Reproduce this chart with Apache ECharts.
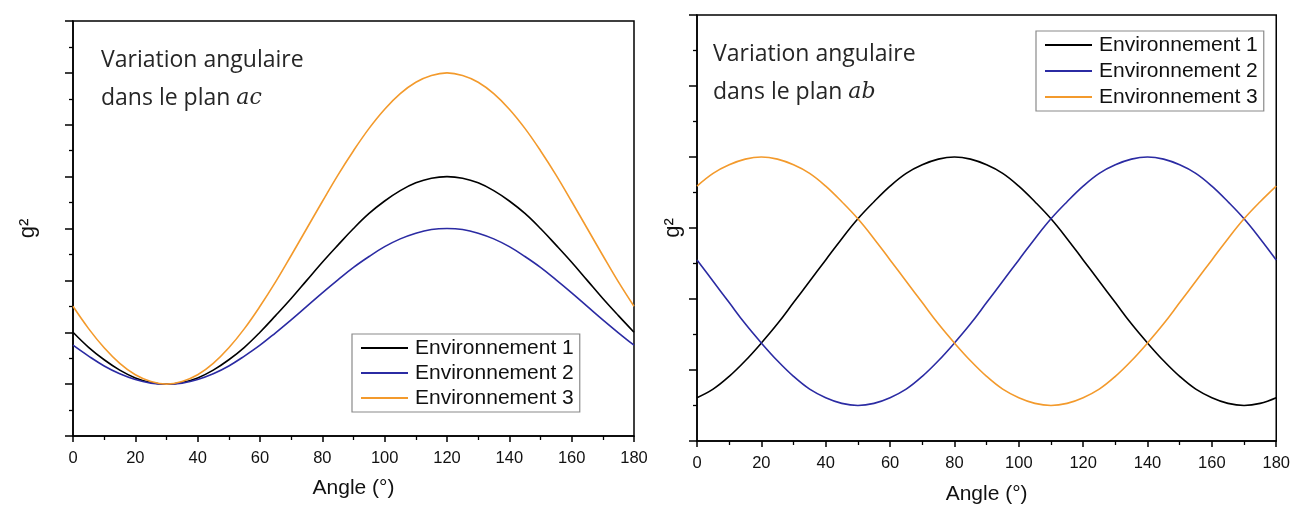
<!DOCTYPE html>
<html>
<head>
<meta charset="utf-8">
<script src="https://cdn.jsdelivr.net/npm/echarts@6/dist/echarts.min.js"></script>
<style>
html,body{margin:0;padding:0;background:#fff;}
#c{width:1293px;height:510px;}
</style>
</head>
<body>
<div id="c"></div>
<script>
// Angles (degrees)
const angles = [0,5,10,15,20,25,30,35,40,45,50,55,60,65,70,75,80,85,90,95,100,105,110,115,120,125,130,135,140,145,150,155,160,165,170,175,180];
const xTicks = [0,20,40,60,80,100,120,140,160,180];
const seriesNames = ['Environnement 1','Environnement 2','Environnement 3'];

// Left panel: plan ac (arbitrary g² units)
const acEnv1 = [2.00,1.71,1.47,1.27,1.12,1.03,1.00,1.03,1.12,1.27,1.47,1.71,2.00,2.32,2.65,3.00,3.35,3.68,4.00,4.29,4.53,4.73,4.88,4.97,5.00,4.97,4.88,4.73,4.53,4.29,4.00,3.68,3.35,3.00,2.65,2.32,2.00];
const acEnv2 = [1.75,1.54,1.35,1.20,1.09,1.02,1.00,1.02,1.09,1.20,1.35,1.54,1.75,1.99,2.24,2.50,2.76,3.01,3.25,3.46,3.65,3.80,3.91,3.98,4.00,3.98,3.91,3.80,3.65,3.46,3.25,3.01,2.76,2.50,2.24,1.99,1.75];
const acEnv3 = [2.50,2.07,1.70,1.40,1.18,1.05,1.00,1.05,1.18,1.40,1.70,2.07,2.50,2.97,3.48,4.00,4.52,5.03,5.50,5.93,6.30,6.60,6.82,6.95,7.00,6.95,6.82,6.60,6.30,5.93,5.50,5.03,4.52,4.00,3.48,2.97,2.50];

// Right panel: plan ab
const abEnv1 = [0.61,0.73,0.91,1.13,1.38,1.65,1.95,2.25,2.55,2.85,3.13,3.37,3.59,3.77,3.89,3.97,4.00,3.97,3.89,3.77,3.59,3.37,3.13,2.85,2.55,2.25,1.95,1.65,1.38,1.13,0.91,0.73,0.61,0.53,0.50,0.53,0.61];
const abEnv2 = [2.55,2.25,1.95,1.65,1.38,1.13,0.91,0.73,0.61,0.53,0.50,0.53,0.61,0.73,0.91,1.13,1.38,1.65,1.95,2.25,2.55,2.85,3.13,3.37,3.59,3.77,3.89,3.97,4.00,3.97,3.89,3.77,3.59,3.37,3.13,2.85,2.55];
const abEnv3 = [3.59,3.77,3.89,3.97,4.00,3.97,3.89,3.77,3.59,3.37,3.13,2.85,2.55,2.25,1.95,1.65,1.38,1.13,0.91,0.73,0.61,0.53,0.50,0.53,0.61,0.73,0.91,1.13,1.38,1.65,1.95,2.25,2.55,2.85,3.13,3.37,3.59];

const colors = ['#000000','#2b2ba3','#f39a2c'];
const FONT = '"Liberation Sans", Arial, sans-serif';

function xAxisFor(gridIndex, gap){
  return {
    type:'value', gridIndex, min:0, max:180, interval:20,
    name:'Angle (°)', nameLocation:'middle', nameGap:gap,
    nameTextStyle:{fontFamily:FONT,fontSize:21,color:'#111'},
    axisLine:{onZero:false,lineStyle:{color:'#000',width:1.5}},
    axisTick:{show:true,length:6,lineStyle:{color:'#000',width:1.5}},
    minorTick:{show:true,splitNumber:2,length:4,lineStyle:{color:'#000',width:1.3}},
    splitLine:{show:false},
    axisLabel:{margin:14,fontFamily:FONT,fontSize:16.5,color:'#111',
      formatter:(v)=> xTicks.includes(v) ? String(v) : ''}
  };
}
function yAxisFor(gridIndex, max, gap){
  return {
    type:'value', gridIndex, min:0, max:max, interval:1,
    name:'g²', nameLocation:'middle', nameGap:gap, nameRotate:90,
    nameTextStyle:{fontFamily:FONT,fontSize:22,color:'#111'},
    axisLine:{onZero:false,lineStyle:{color:'#000',width:1.5}},
    axisTick:{show:true,length:8,lineStyle:{color:'#000',width:1.5}},
    minorTick:{show:true,splitNumber:2,length:4,lineStyle:{color:'#000',width:1.3}},
    splitLine:{show:false},
    axisLabel:{show:false}
  };
}
function mkSeries(name, idx, vals, color){
  return {
    name, type:'line', xAxisIndex:idx, yAxisIndex:idx,
    data: angles.map((a,i)=>[a, vals[i]]),
    symbol:'none', smooth:0.4,
    lineStyle:{color, width:1.6}, itemStyle:{color}
  };
}
function legendFor(left, top, gap){
  return {
    orient:'vertical', left, top,
    data: seriesNames.map(n=>({name:n, icon:'rect'})),
    itemWidth:47, itemHeight:2, itemGap:gap,
    padding:[3,6,3,9],
    borderColor:'#8a8a8a', borderWidth:1.2, borderRadius:0,
    backgroundColor:'#fff',
    textStyle:{fontFamily:FONT,fontSize:21,color:'#111',lineHeight:22, padding:[0,0,0,2]},
    selectedMode:false
  };
}

const chart = echarts.init(document.getElementById('c'), null, {renderer:'canvas'});
const annStyle = {fontFamily:'"Open Sans", sans-serif',fontSize:23,fontWeight:'normal',color:'#262626',lineHeight:38,
  rich:{m:{fontFamily:'"DejaVu Serif", serif',fontStyle:'italic',fontSize:22,color:'#262626',lineHeight:38}}};
chart.setOption({
  animation:false,
  backgroundColor:'#fff',
  title:[
    {left:101, top:41, padding:0, text:'Variation angulaire\ndans le plan {m|ac}', textStyle:annStyle},
    {left:713, top:35, padding:0, text:'Variation angulaire\ndans le plan {m|ab}', textStyle:annStyle}
  ],
  grid:[
    {left:73, right:659, top:21, bottom:74, show:true, borderColor:'#000', borderWidth:1.5, backgroundColor:'transparent'},
    {left:697, right:14, top:15, bottom:66, show:true, borderColor:'#000', borderWidth:1.5, backgroundColor:'transparent'}
  ],
  xAxis:[xAxisFor(0,42), xAxisFor(1,43)],
  yAxis:[yAxisFor(0,8,34), yAxisFor(1,6,13)],
  legend:[legendFor(352,334,3), legendFor(1036,31,4)],
  series:[
    mkSeries(seriesNames[0],0,acEnv1,colors[0]),
    mkSeries(seriesNames[1],0,acEnv2,colors[1]),
    mkSeries(seriesNames[2],0,acEnv3,colors[2]),
    mkSeries(seriesNames[0],1,abEnv1,colors[0]),
    mkSeries(seriesNames[1],1,abEnv2,colors[1]),
    mkSeries(seriesNames[2],1,abEnv3,colors[2])
  ]
});
</script>
</body>
</html>
